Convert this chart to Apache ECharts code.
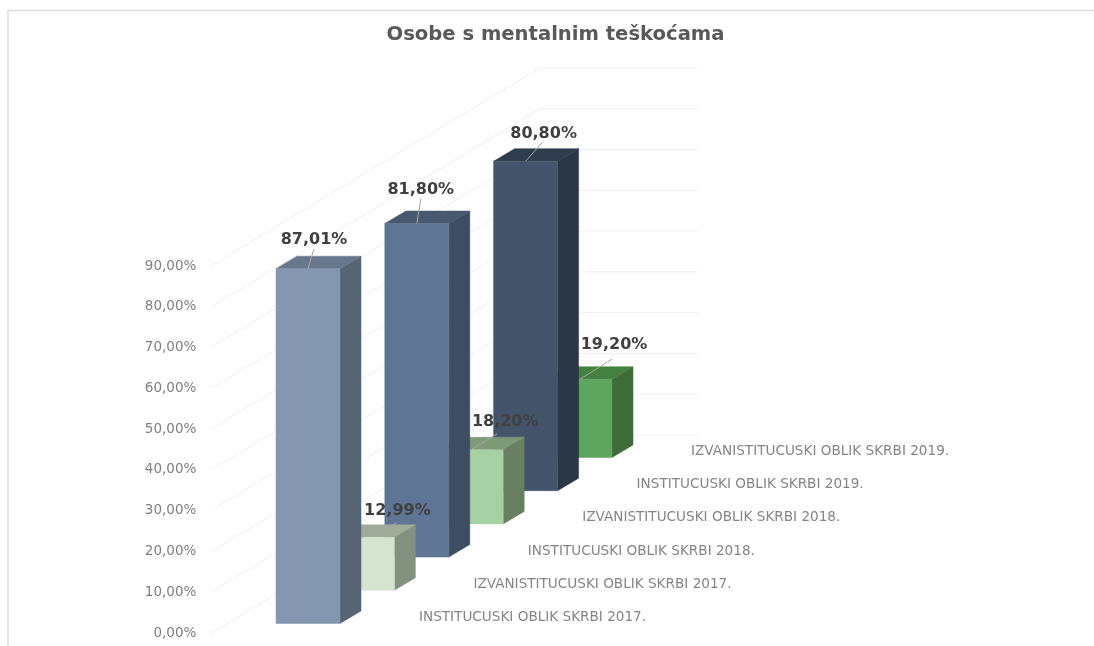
<!DOCTYPE html>
<html>
<head>
<meta charset="utf-8">
<style>html,body{margin:0;padding:0;background:#fff}#c{width:1094px;height:646px}</style>
<script src="https://cdn.jsdelivr.net/npm/echarts@6/dist/echarts.min.js"></script>
</head>
<body>
<div id="c"></div>
<script>
const titleText = 'Osobe s mentalnim teškoćama';
const categories = [
  'INSTITUCUSKI OBLIK SKRBI 2017.',
  'IZVANISTITUCUSKI OBLIK SKRBI 2017.',
  'INSTITUCUSKI OBLIK SKRBI 2018.',
  'IZVANISTITUCUSKI OBLIK SKRBI 2018.',
  'INSTITUCUSKI OBLIK SKRBI 2019.',
  'IZVANISTITUCUSKI OBLIK SKRBI 2019.'
];
const values = [87.01, 12.99, 81.80, 18.20, 80.80, 19.20];
const yTicks = [0, 10, 20, 30, 40, 50, 60, 70, 80, 90];

const faces = [
  ['#8496b0', '#566475', '#67778c'],
  ['#d5e3d0', '#85917f', '#a0ab98'],
  ['#5f7595', '#3d4e63', '#47586f'],
  ['#a8d0a5', '#688060', '#7f9a78'],
  ['#44546a', '#2b3747', '#2f3c4e'],
  ['#5ea55e', '#3e6b38', '#44803f']
];
// label centre and leader end, relative to the front-top centre of each bar
const labelPlace = [
  [6, -30, 6, -20], [35, -27, 34, -14], [4, -35, 4, -25],
  [34, -29, 26, -16], [18, -28, 17, -19], [34, -35, 32, -20]
];
const FRONT_W = 64, DX = 21, DY = 12.5, STEP_Y = 33.2, BASE_Y = 9.5;
const fmt = v => v.toFixed(2).replace('.', ',') + '%';
const sink = i => BASE_Y + STEP_Y * i;

function barItem(params, api) {
  const i = api.value(0), v = api.value(1);
  const top = api.coord([i, v]), bot = api.coord([i, 0]);
  const s = sink(i), cx = top[0];
  const x0 = cx - FRONT_W / 2, x1 = cx + FRONT_W / 2;
  const yT = top[1] - s, yB = bot[1] - s;
  const poly = (points, fill) => ({ type: 'polygon', shape: { points }, style: { fill, stroke: fill, lineWidth: 0.5 } });
  return {
    type: 'group',
    children: [
      poly([[x1, yT], [x1 + DX, yT - DY], [x1 + DX, yB - DY], [x1, yB]], faces[i][1]),
      poly([[x0, yT], [x0 + DX, yT - DY], [x1 + DX, yT - DY], [x1, yT]], faces[i][2]),
      poly([[x0, yT], [x1, yT], [x1, yB], [x0, yB]], faces[i][0])
    ]
  };
}

function labelItem(params, api) {
  const i = api.value(0), v = api.value(1);
  const top = api.coord([i, v]), bot = api.coord([i, 0]);
  const s = sink(i), cx = top[0], yT = top[1] - s, p = labelPlace[i];
  return {
    type: 'group',
    children: [
      { type: 'line', shape: { x1: cx, y1: yT, x2: cx + p[2], y2: yT + p[3] }, style: { stroke: '#a6a6a6', lineWidth: 1 } },
      { type: 'text', x: cx + p[0], y: yT + p[1] + 1, style: { text: fmt(v), fill: '#404040', font: 'bold 16px "DejaVu Sans"', align: 'center', verticalAlign: 'middle' } },
      { type: 'text', x: cx + 111, y: bot[1] - s - 6, style: { text: categories[i], fill: '#858585', font: '13.6px "DejaVu Sans"', align: 'left', verticalAlign: 'middle' } }
    ]
  };
}

function wallItem(params, api) {
  const p = api.coord([0, api.value(0)]);
  const y = p[1];
  return {
    type: 'polyline',
    shape: { points: [[211, y], [540, y - 198], [698, y - 198]] },
    style: { stroke: '#f0f0f0', lineWidth: 1, fill: 'none' },
    silent: true
  };
}

const chart = echarts.init(document.getElementById('c'), null, { renderer: 'canvas' });
chart.setOption({
  animation: false,
  backgroundColor: '#fff',
  title: {
    text: titleText, left: 550.5, top: 20, textAlign: 'center',
    textStyle: { fontFamily: 'DejaVu Sans', fontSize: 19.6, fontWeight: 'bold', color: '#595959' }
  },
  grid: { left: 280.8, width: 326.4, top: 266, height: 367 },
  xAxis: { type: 'category', data: categories.map((c, i) => i), show: false },
  yAxis: {
    type: 'value', min: 0, max: 90, interval: 10, offset: 76,
    axisLine: { show: false }, axisTick: { show: false }, splitLine: { show: false },
    axisLabel: { margin: 8.5, color: '#7f7f7f', fontFamily: 'DejaVu Sans', fontSize: 13.5, formatter: v => v.toFixed(2).replace('.', ',') + '%' }
  },
  graphic: [{
    type: 'polyline', silent: true, z: 0,
    shape: { points: [[8, 646], [8, 10.5], [1094, 10.5]] },
    style: { stroke: '#dcdcdc', lineWidth: 1.5, fill: 'none' }
  }],
  series: [
    { type: 'custom', z: 1, clip: false, coordinateSystem: 'cartesian2d', encode: { x: -1, y: 0 }, data: yTicks.map(t => [t]), renderItem: wallItem },
    { type: 'custom', z: 2, clip: false, coordinateSystem: 'cartesian2d', data: values.map((v, i) => [i, v]).reverse(), renderItem: barItem },
    { type: 'custom', z: 3, clip: false, coordinateSystem: 'cartesian2d', data: values.map((v, i) => [i, v]), renderItem: labelItem }
  ]
});
</script>
</body>
</html>
